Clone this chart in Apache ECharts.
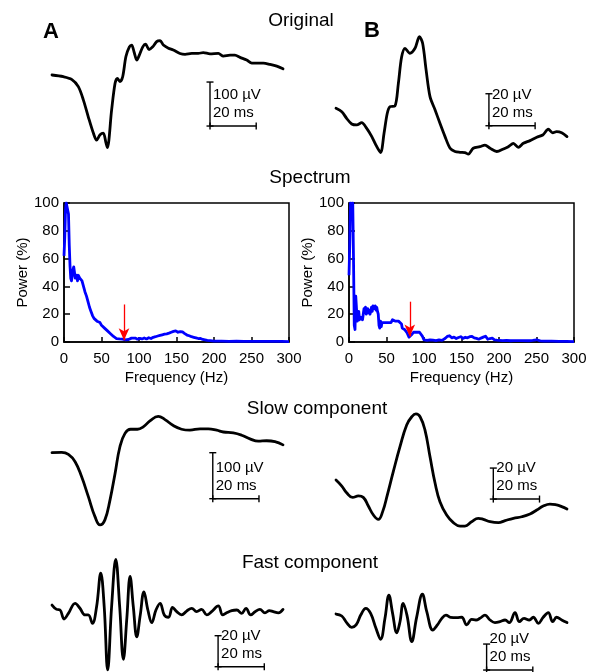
<!DOCTYPE html>
<html><head><meta charset="utf-8">
<script src="https://cdn.jsdelivr.net/npm/echarts@6/dist/echarts.min.js"></script>
<style>html,body{margin:0;padding:0;background:#fff}#c{width:598px;height:672px}</style>
</head><body><div id="c"></div>
<script>
// ---------- DATA (time in ms, amplitude in µV, frequency in Hz, power in %) ----------
const origA = [[0,0],[4.9,-3.8],[8.5,-10],[11.4,-26.5],[13.6,-57],[15.7,-95],[17.9,-132],[19.3,-148],[20.8,-136],[22.2,-132],[23.4,-155],[24,-165],[25.8,-80],[27.3,-19],[28.3,-7.5],[29.4,-15],[30.6,-4],[32,42],[33.5,64],[34.5,68],[35.5,53],[36.7,34],[37.8,45],[39.3,64],[40.5,70],[42,58],[43.6,64],[45.3,76],[46.8,78],[48.2,68],[50.4,61],[52.5,57],[55.4,49],[57.6,47],[60.5,49],[63.3,49],[65.5,51],[68.4,48],[72,49],[74.2,43],[77.1,45],[79.2,45],[81.4,40],[84.3,34],[86.5,27],[89.3,27],[91.5,27],[94.4,24],[97.3,20],[100,14]];
const slowA = [[0,0],[4.2,0.7],[7.1,-3.6],[10,-19.5],[12.8,-52],[15.7,-95],[18.6,-139],[20.8,-157],[22.9,-146],[25.1,-103],[27.3,-45],[29.4,13],[31.6,42],[34,51],[37,51],[39.5,56],[42.4,69],[46,79],[48.9,72],[52.5,59],[56.1,51],[59.7,49],[64.1,52],[67.7,52],[71.3,49],[74.2,45],[78.5,43],[82.1,38],[85.7,30],[89.3,25],[92.9,26],[96.5,24],[100,17]];
const fastA = [[0,4.5],[2,1.7],[3.5,1.3],[5.2,-4.5],[7.1,-0.9],[10,5.6],[12.1,2.4],[14.3,-1.9],[15.7,-1.9],[17.5,-7.3],[19.3,3.4],[21.1,25],[22.6,3.4],[24.1,-37.4],[25.8,3.4],[27.6,34],[29.3,3.4],[30.9,-30.5],[32.4,-4],[33.8,23],[35.2,3.4],[36.7,-16],[38.2,-2],[39.8,13],[41.5,1.3],[43.2,-6.9],[45,1.3],[46.8,5.6],[48.6,-1.9],[50.4,-3.4],[52.2,3],[54,0.2],[56.1,-1.9],[58.3,0.6],[60.5,2.4],[62.6,0.2],[64.8,1.7],[67,-1.9],[69.1,0.2],[72,3.9],[73.9,-1.9],[75.6,-0.5],[77.8,0.9],[80,1.3],[82.1,-0.9],[84,2.4],[86,-1.9],[87.9,0.2],[90,1.7],[92.2,-0.5],[94.1,0.9],[95.8,0.2],[98,-0.5],[100,1.7]];
const origB = [[0,0],[2.5,-2.1],[4.6,-6.3],[6.8,-9.8],[9,-10.4],[11.1,-9],[13.3,-12.5],[15.5,-17.7],[17.3,-23],[19.3,-27.7],[20.8,-15.6],[22.2,-3.1],[23.4,1],[25.5,1.4],[27,15.6],[28.4,32],[29.9,37.5],[32,34.4],[34.2,37.5],[36.1,44.8],[37.5,40.6],[39,24],[40.7,7.3],[42.9,-1],[45,-9.4],[47.2,-17.7],[49.4,-25],[51.5,-27],[53.7,-27.5],[55.8,-27.7],[57.3,-28.6],[59.4,-25],[62.3,-24],[64.5,-23],[66.7,-25],[69.6,-27],[72.5,-25.4],[74.6,-24],[76.8,-21.9],[78.9,-24.4],[81.1,-21.9],[84,-20.2],[86.9,-18.1],[89.5,-16.7],[91.9,-13.1],[93.8,-15.3],[95.5,-14.6],[97.7,-15.3],[100,-17.7]];
const slowB = [[0,0],[2.5,-3.9],[4.6,-8.2],[7.2,-11.2],[9.7,-10.3],[11.8,-11.2],[14,-16.8],[16.2,-22.6],[18.3,-25.4],[20.2,-20.4],[22.2,-9.7],[24.8,5.4],[27.7,21.5],[30.6,35.5],[32.8,40.8],[34.6,42.6],[36.4,40.8],[38.5,32.3],[40.7,15],[42.9,-2.1],[45,-14],[47.9,-22.6],[50.8,-27.5],[53.7,-29.7],[55.8,-29.7],[58.7,-26.9],[61.6,-24.7],[63.8,-25.4],[66.7,-26.9],[70.3,-27.5],[73.2,-26.2],[76.8,-24.7],[80.4,-23.7],[84,-21.9],[86.9,-19.4],[89.7,-16.8],[92.6,-15.5],[95.5,-16.1],[97.7,-17.2],[100,-18.7]];
const fastB = [[0,4.6],[2.5,3.1],[4.6,-2],[6.8,-5.6],[8.7,-3.8],[10.7,3.8],[12.9,9],[15,5.1],[17.3,-6.4],[19.3,-14.8],[21.2,1.3],[22.9,19.2],[24.5,5.1],[26.3,-9.8],[27.7,-1.3],[29.1,12.8],[30.8,3],[32.8,-16.7],[34.9,2],[37.4,19.8],[39.3,6.4],[41.9,-7.7],[43.9,-3.8],[45.8,1.3],[47.6,3.8],[49.6,2.1],[52.3,1.8],[54.4,2.1],[56.6,-3.8],[58.7,0.5],[60.6,0],[62.3,1.3],[64.5,3.8],[66.7,0],[68.8,-2],[71,-1.3],[73.2,0],[75,-2],[77.5,5.6],[79.4,-1.3],[81.4,1.3],[83.7,0],[85.4,2.1],[87.6,-2.6],[89.7,2.1],[91.9,5.6],[93.8,-1.3],[95.5,2.1],[97.7,0],[100,-2]];

const specA = [[0,62],[1,75],[2,95],[3,100],[4,100],[5,99],[6,92],[7,70],[8,55],[9,46],[10,44],[11,48],[12,52],[13,54],[14,50],[15,46],[16,45],[17,48],[18,44],[19,48],[20,47],[21,46],[22,47],[24,44],[26,40],[28,36],[30,33],[32,29],[34,25],[36,22],[38,19],[40,17],[42,16],[44,15],[46,15],[48,14],[50,12],[52,11],[54,10],[56,10],[58,8],[60,7],[62,6],[64,5],[66,4],[68,3],[70,2.5],[72,2.8],[74,2.2],[76,2.6],[78,2],[80,1.8],[82,1.5],[84,1.2],[86,1.8],[88,2.5],[90,2.8],[92,2.3],[95,2.8],[98,2.0],[101,2.6],[104,2.2],[107,2.9],[110,2.2],[113,3.1],[116,2.5],[119,3.4],[122,3.8],[125,4.3],[128,4.8],[131,5.2],[134,5.6],[137,5.9],[140,6.4],[143,7.0],[146,7.6],[149,8.0],[152,7.0],[155,7.5],[158,7.2],[161,6.0],[164,5.0],[167,4.5],[170,3.8],[173,3.4],[176,3.0],[179,2.5],[182,2.6],[185,1.8],[188,1.5],[191,1.1],[195,1.0],[200,0.7],[210,0.6],[220,0.5],[230,0.6],[240,0.5],[250,0.5],[260,0.4],[270,0.5],[280,0.5],[290,0.4],[300,0.3]];
const specB = [[0,48],[1,70],[2,100],[3,100],[4,92],[5,100],[6,60],[7,12],[8,9],[9,33],[10,32],[11,15],[12,18],[13,22],[14,16],[15,18],[16,17],[17,19],[18,16],[19,20],[20,24],[21,22],[22,25],[23,20],[24,22],[25,24],[26,21],[27,23],[28,20],[29,22],[30,25],[31,22],[32,26],[33,27],[34,24],[35,26],[36,23],[37,25],[38,22],[39,20],[40,12],[41,10],[42,15],[43,11],[44,14],[45,13],[46,15],[48,14],[50,13],[52,14],[54,15],[56,14],[58,16],[60,15],[62,15],[64,14],[66,15],[68,14],[70,13],[71,10],[72,9],[73,11],[74,9],[76,8],[77,7],[78,8],[79,6],[80,3.5],[81,2.5],[82,3],[83,5],[84,6],[86,7],[88,6],[90,7],[92,6.5],[94,7],[96,6],[98,4],[100,1.5],[104,1.2],[108,1.6],[112,1.3],[116,1.0],[120,1.5],[124,1.2],[128,2.5],[131,4],[134,4.5],[137,3],[140,3.5],[143,2.5],[146,3.2],[149,3.8],[152,2.6],[155,3.4],[158,3],[161,3.8],[164,4],[167,3],[170,2.6],[173,2],[176,2.8],[179,3.5],[182,4.2],[185,2],[188,2.5],[191,2.8],[194,1.6],[197,1.3],[200,1.2],[205,1],[210,1.2],[215,0.9],[220,1],[230,1],[240,0.9],[245,1.2],[250,1.6],[255,0.8],[260,0.7],[270,0.6],[280,0.5],[290,0.5],[300,0.3]];

const freqTicks = {min:0, max:300, interval:50};
const powerTicks = {min:0, max:100, interval:20};
const cutoffArrows = {A:{freq:80, from:27, to:1.2}, B:{freq:81, from:29, to:4}};

// scale-bar values: [ms, µV]
const barOrigA = [20, 100], barSlowA = [20, 100], barFastA = [20, 20];
const barOrigB = [20, 20],  barSlowB = [20, 20],  barFastB = [20, 20];

const panelTitles = ['Original', 'Spectrum', 'Slow component', 'Fast component'];
const panelLetters = ['A', 'B'];

// ---------- LAYOUT ----------
const FONT = '"Liberation Sans", Arial, Helvetica, sans-serif';
const traces = [
  {data:origA, bar:barOrigA, left:52,  top:30,  height:130, base:75,    k:0.44, anchor:[68.4,-116], smooth:0.3},
  {data:slowA, bar:barSlowA, left:52,  top:405, height:130, base:452.7, k:0.46, anchor:[69.6,-100], smooth:0.45},
  {data:fastA, bar:barFastA, left:52,  top:560, height:112, base:612,   k:1.55, anchor:[71.9,-35.3], smooth:0.4},
  {data:origB, bar:barOrigB, left:336, top:30,  height:130, base:108.3, k:1.6,  anchor:[66.2,-10.9], smooth:0.3},
  {data:slowB, bar:barSlowB, left:336, top:405, height:130, base:480,   k:1.55, anchor:[68.1,-12.3], smooth:0.45},
  {data:fastB, bar:barFastB, left:336, top:560, height:112, base:620,   k:1.3,  anchor:[65.2,-38.5], smooth:0.4}
];
const spectra = [
  {data:specA, arrow:cutoffArrows.A, left:64,  top:203, width:225, height:139, nameGap:34},
  {data:specB, arrow:cutoffArrows.B, left:349, top:203, width:225, height:139, nameGap:26}
];

const grid = [], xAxis = [], yAxis = [], series = [];

traces.forEach((tr, i) => {
  grid.push({left:tr.left, top:tr.top, width:231, height:tr.height, show:false});
  xAxis.push({type:'value', gridIndex:i, min:0, max:100, show:false});
  yAxis.push({type:'value', gridIndex:i, show:false,
    max:(tr.base - tr.top)/tr.k, min:-(tr.top + tr.height - tr.base)/tr.k});
  series.push({type:'line', xAxisIndex:i, yAxisIndex:i, data:tr.data, showSymbol:false,
    smooth:tr.smooth, clip:false, silent:true,
    lineStyle:{color:'#000', width:2.8, join:'round', cap:'round'}});
  const uvLabel = tr.bar[1] + ' µV', msLabel = tr.bar[0] + ' ms';
  series.push({type:'custom', xAxisIndex:i, yAxisIndex:i, silent:true, clip:false,
    data:[[tr.anchor[0], tr.anchor[1], tr.bar[0], tr.bar[1]]],
    renderItem:(params, api) => {
      const t0 = api.value(0), v0 = api.value(1), dt = api.value(2), dv = api.value(3);
      const p0 = api.coord([t0, v0]), p1 = api.coord([t0, v0 + dv]), p2 = api.coord([t0 + dt, v0]);
      const c = 3.5;
      const st = {stroke:'#000', lineWidth:1.4};
      const ln = (x1,y1,x2,y2) => ({type:'line', shape:{x1,y1,x2,y2}, style:st});
      return {type:'group', children:[
        ln(p0[0],p0[1],p1[0],p1[1]),
        ln(p1[0]-c,p1[1],p1[0]+c,p1[1]),
        ln(p0[0]-c,p0[1],p0[0]+c,p0[1]),
        ln(p0[0],p0[1],p2[0],p2[1]),
        ln(p0[0],p0[1]-c,p0[0],p0[1]+c),
        ln(p2[0],p2[1]-c,p2[0],p2[1]+c),
        {type:'text', style:{text:uvLabel, x:p0[0]+3, y:p0[1]-31, fill:'#000',
          fontSize:15, fontFamily:FONT, verticalAlign:'middle', align:'left'}},
        {type:'text', style:{text:msLabel, x:p0[0]+3, y:p0[1]-13, fill:'#000',
          fontSize:15, fontFamily:FONT, verticalAlign:'middle', align:'left'}}
      ]};
    }});
});

spectra.forEach((sp, j) => {
  const i = traces.length + j;
  grid.push({left:sp.left, top:sp.top, width:sp.width, height:sp.height, show:true,
    borderColor:'#000', borderWidth:1.5, backgroundColor:'transparent'});
  xAxis.push({type:'value', gridIndex:i, min:freqTicks.min, max:freqTicks.max, interval:freqTicks.interval,
    axisLine:{show:true, lineStyle:{color:'#000', width:1.5}},
    axisTick:{show:true, inside:true, length:5, lineStyle:{color:'#000', width:1.5}},
    splitLine:{show:false},
    axisLabel:{color:'#000', fontSize:15, fontFamily:FONT, margin:9, showMaxLabel:true, showMinLabel:true},
    name:'Frequency (Hz)', nameLocation:'middle', nameGap:28,
    nameTextStyle:{color:'#000', fontSize:15, fontFamily:FONT}});
  yAxis.push({type:'value', gridIndex:i, min:powerTicks.min, max:powerTicks.max, interval:powerTicks.interval,
    axisLine:{show:true, lineStyle:{color:'#000', width:1.5}},
    axisTick:{show:true, inside:true, length:6, lineStyle:{color:'#000', width:1.5}},
    splitLine:{show:false},
    axisLabel:{color:'#000', fontSize:15, fontFamily:FONT, margin:5},
    name:'Power (%)', nameLocation:'middle', nameGap:sp.nameGap, nameRotate:90,
    nameTextStyle:{color:'#000', fontSize:15, fontFamily:FONT}});
  series.push({type:'line', xAxisIndex:i, yAxisIndex:i, data:sp.data, showSymbol:false, silent:true,
    lineStyle:{color:'#0000ff', width:2.8, join:'round'},
    markLine:{silent:true, symbol:['none','arrow'], symbolSize:[8,12], animation:false,
      label:{show:false}, emphasis:{disabled:true},
      lineStyle:{color:'#ff0000', width:1.3, type:'solid'},
      data:[[{coord:[sp.arrow.freq, sp.arrow.from]}, {coord:[sp.arrow.freq, sp.arrow.to]}]]}});
});

const txt = (text, x, y, size, bold) => ({type:'text', style:{text, x, y, fill:'#000',
  fontSize:size, fontFamily:FONT, fontWeight:bold?'bold':'normal', align:'center', verticalAlign:'middle'}});

const graphic = [
  txt(panelTitles[0], 301, 21, 19),
  txt(panelTitles[1], 310, 178, 19),
  txt(panelTitles[2], 317, 409, 19),
  txt(panelTitles[3], 310, 563, 19),
  txt(panelLetters[0], 51, 32, 22, true),
  txt(panelLetters[1], 372, 31, 22, true)
];

const chart = echarts.init(document.getElementById('c'), null, {renderer:'canvas'});
chart.setOption({animation:false, backgroundColor:'#fff', grid, xAxis, yAxis, series, graphic});
</script>
</body></html>
